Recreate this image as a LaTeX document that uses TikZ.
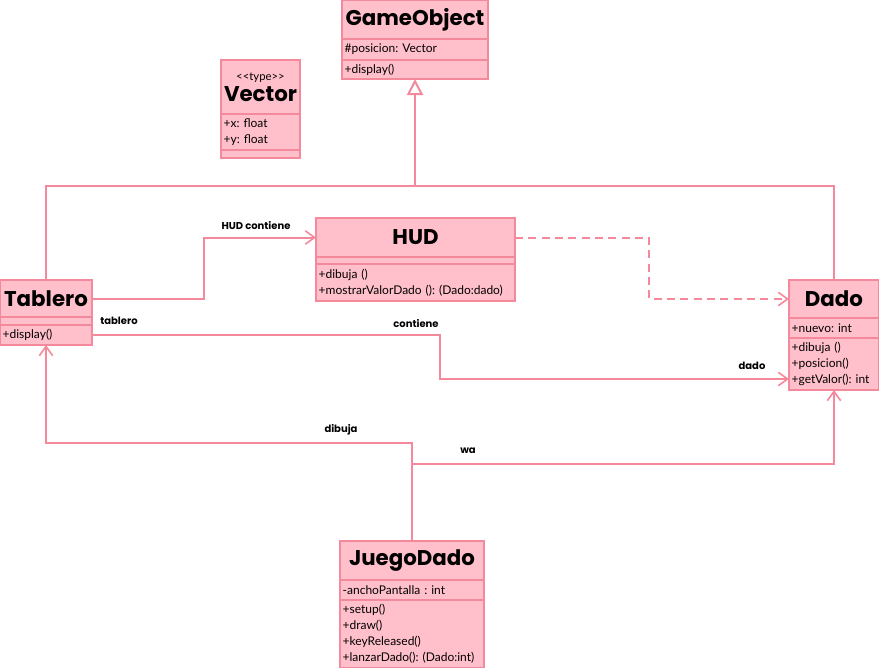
\documentclass[tikz,border=0pt]{standalone}
\usepackage{fontspec}
\setmainfont{Lato}
\newfontfamily\titlefont{Poppins}
\usetikzlibrary{arrows.meta,positioning,calc}
\definecolor{umlfill}{HTML}{FFC0CB}
\definecolor{umlline}{HTML}{F4899B}
\tikzset{>={Straight Barb[length=7pt,width=10pt,line width=1.2pt]}}
\tikzset{
  compart/.style={draw=umlline,fill=umlfill,line width=1.5pt,anchor=north west,inner xsep=2pt,inner ysep=0pt,outer sep=0pt,align=left,font=\fontsize{9}{12}\selectfont},
  titlebox/.style={compart,align=center,font=\titlefont\bfseries\fontsize{16}{16}\selectfont},
  assoc/.style={draw=umlline,line width=1.5pt,->},
  depend/.style={assoc,dash pattern=on 6pt off 4pt},
  genline/.style={draw=umlline,line width=1.5pt},
  rolelabel/.style={font=\titlefont\bfseries\fontsize{7.5}{8}\selectfont,inner sep=0pt}
}
\begin{document}
\frenchspacing
\begin{tikzpicture}[x=0.75pt,y=-0.75pt]
        \useasboundingbox (0,0) rectangle (879,668);
        % GameObject
        \node[titlebox,minimum width=146*0.75pt,minimum height=39*0.75pt] (gobj) at (342,0) {GameObject};
        \node[compart,text width=146*0.75pt-4pt,minimum height=21*0.75pt] (gobj-attr) at (gobj.south west) {\#posicion: Vector};
        \node[compart,text width=146*0.75pt-4pt,minimum height=19*0.75pt] (gobj-ops) at (gobj-attr.south west) {+display()};
        % Vector
        \node[titlebox,minimum width=79*0.75pt,minimum height=54*0.75pt] (vec) at (221,60) {{\normalfont\fontsize{8.5}{10}\selectfont <{}<type>{}>}\\Vector};
        \node[compart,text width=79*0.75pt-4pt,minimum height=36*0.75pt] (vec-attr) at (vec.south west) {+x: float\\+y: float};
        \node[compart,minimum width=79*0.75pt,minimum height=8*0.75pt] (vec-ops) at (vec-attr.south west) {};
        % HUD
        \node[titlebox,minimum width=199*0.75pt,minimum height=39*0.75pt] (hud) at (316,218) {HUD};
        \node[compart,minimum width=199*0.75pt,minimum height=7*0.75pt] (hud-attr) at (hud.south west) {};
        \node[compart,text width=199*0.75pt-4pt,minimum height=37*0.75pt] (hud-ops) at (hud-attr.south west) {+dibuja ()\\+mostrarValorDado (): (Dado:dado)};
        % Tablero
        \node[titlebox,minimum width=92*0.75pt,minimum height=37*0.75pt] (tab) at (0,280) {Tablero};
        \node[compart,minimum width=92*0.75pt,minimum height=8*0.75pt] (tab-attr) at (tab.south west) {};
        \node[compart,text width=92*0.75pt-4pt,minimum height=20*0.75pt] (tab-ops) at (tab-attr.south west) {+display()};
        % Dado
        \node[titlebox,minimum width=90*0.75pt,minimum height=38*0.75pt] (dado) at (789,280) {Dado};
        \node[compart,text width=90*0.75pt-4pt,minimum height=20*0.75pt] (dado-attr) at (dado.south west) {+nuevo: int};
        \node[compart,text width=90*0.75pt-4pt,minimum height=52*0.75pt] (dado-ops) at (dado-attr.south west) {+dibuja ()\\+posicion()\\+getValor(): int};
        % JuegoDado
        \node[titlebox,minimum width=144*0.75pt,minimum height=39*0.75pt] (jd) at (340,541) {JuegoDado};
        \node[compart,text width=144*0.75pt-4pt,minimum height=20*0.75pt] (jd-attr) at (jd.south west) {-anchoPantalla : int};
        \node[compart,text width=144*0.75pt-4pt,minimum height=68*0.75pt] (jd-ops) at (jd-attr.south west) {+setup()\\+draw()\\+keyReleased()\\+lanzarDado(): (Dado:int)};
        % herencia
        \coordinate (genjoin) at (415,186);
        \draw[genline] (tab.north) |- (genjoin) -| (dado.north);
        \draw[genline,-{Triangle[open,length=12pt,width=12pt,fill=white]}] (genjoin) -- (gobj-ops.south);
        % asociaciones
        \draw[assoc] (tab.east) -- ++(112,0) |- (hud.west);
        \draw[depend] (hud.east) -- ++(134,0) |- (dado.west);
        \draw[assoc] (tab-ops.east) -- ++(348,0) |- ([yshift=8.25pt]dado-ops.south west);
        \coordinate (jdbranch) at (412,464);
        \draw[assoc] (jd.north) -- ++(0,-98) -| (tab-ops.south);
        \draw[assoc] (jdbranch) -| (dado-ops.south);
        % etiquetas
        \node[rolelabel] (lhud) at (256,226) {HUD contiene};
        \node[rolelabel] (ltab) at (119,321) {tablero};
        \node[rolelabel] (lcont) at (416,324) {contiene};
        \node[rolelabel] (ldado) at (752,366) {dado};
        \node[rolelabel] (ldib) at (341,430) {dibuja};
        \node[rolelabel] (lusa) at (468,451) {wa};
\end{tikzpicture}
\end{document}
